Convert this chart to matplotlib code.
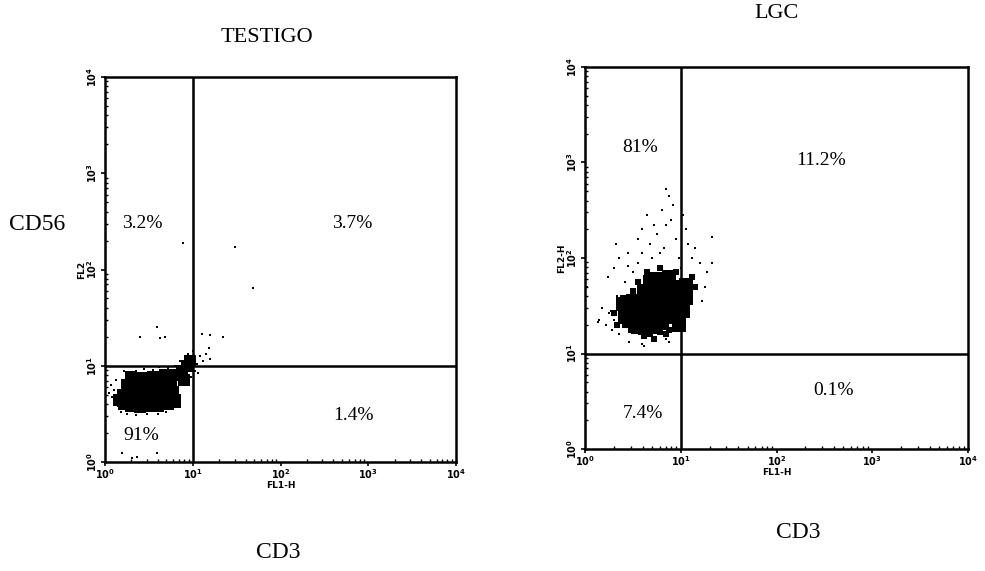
import numpy as np
import matplotlib
matplotlib.use("Agg")
import matplotlib.pyplot as plt

# dot positions are in decades (log10 of FL1-H / FL2-H channel values)
# TESTIGO: dense core, drawn with big dots
t_core_x = [0.22, 0.30, 0.40, 0.50, 0.60, 0.70, 0.20, 0.30, 0.40, 0.50, 0.60, 0.70, 0.78,
            0.25, 0.35, 0.45, 0.55, 0.65, 0.75, 0.30, 0.42, 0.55, 0.68, 0.82, 0.88, 0.93,
            0.97, 0.90, 0.16, 0.80]
t_core_y = [0.60, 0.58, 0.57, 0.58, 0.58, 0.60, 0.70, 0.68, 0.67, 0.68, 0.69, 0.70, 0.72,
            0.80, 0.78, 0.77, 0.79, 0.80, 0.82, 0.88, 0.87, 0.88, 0.90, 0.90, 0.95, 1.00,
            1.05, 0.85, 0.64, 0.62]
# TESTIGO: loose events
t_dot_x = [0.05, 0.08, 0.10, 0.12, 0.07, 0.13, 0.15, 0.18, 0.25, 0.35, 0.48, 0.60, 0.70,
           0.78, 0.84, 0.86, 0.83, 0.22, 0.35, 0.45, 0.55, 0.62, 0.72, 0.80, 0.85, 0.95,
           1.00, 1.03, 1.05, 1.08, 1.12, 1.15, 1.18, 1.20, 1.02, 1.06, 0.40, 0.63, 0.68,
           0.59, 1.11, 1.20, 1.34, 0.89, 1.48, 1.69, 0.19, 0.31, 0.36, 0.59, 0.93, 0.98]
t_dot_y = [0.72, 0.68, 0.75, 0.62, 0.80, 0.85, 0.58, 0.52, 0.50, 0.49, 0.50, 0.50, 0.52,
           0.55, 0.62, 0.70, 0.78, 0.95, 0.95, 0.97, 0.96, 0.99, 0.98, 1.00, 1.05, 1.12,
           1.15, 1.08, 1.02, 1.10, 1.05, 1.12, 1.18, 1.07, 0.95, 0.92, 1.30, 1.29, 1.30,
           1.40, 1.33, 1.32, 1.30, 2.28, 2.23, 1.81, 0.09, 0.04, 0.05, 0.09, 0.90, 0.88]

# LGC: dense core
l_core_x = [0.50, 0.60, 0.70, 0.80, 0.90, 0.45, 0.55, 0.65, 0.75, 0.85, 0.95, 0.50, 0.60,
            0.70, 0.80, 0.90, 1.00, 0.62, 0.72, 0.82, 0.92, 1.05, 0.75, 0.88, 0.42, 0.40,
            1.02, 1.05, 0.55, 0.98, 0.68]
l_core_y = [1.35, 1.30, 1.28, 1.32, 1.38, 1.45, 1.42, 1.40, 1.42, 1.45, 1.50, 1.55, 1.52,
            1.55, 1.55, 1.60, 1.62, 1.65, 1.66, 1.68, 1.70, 1.72, 1.78, 1.80, 1.38, 1.52,
            1.45, 1.58, 1.28, 1.30, 1.75]
# LGC: medium spread
l_mid_x = [0.38, 0.35, 0.42, 0.48, 0.58, 0.68, 0.78, 0.88, 0.40, 0.50, 0.55, 0.65, 0.78,
           0.95, 1.08, 1.12, 0.30, 0.33, 0.62, 0.72, 0.85, 1.15]
l_mid_y = [1.40, 1.50, 1.30, 1.25, 1.22, 1.20, 1.22, 1.25, 1.58, 1.65, 1.75, 1.85, 1.90,
           1.85, 1.65, 1.80, 1.42, 1.30, 1.18, 1.15, 1.20, 1.70]
# LGC: loose events
l_dot_x = [0.30, 0.27, 0.25, 0.33, 0.22, 0.15, 0.46, 0.60, 0.62, 0.85, 0.88, 0.70, 0.55,
           0.60, 0.70, 0.68, 0.75, 0.82, 0.85, 0.90, 0.92, 0.88, 0.85, 0.80, 0.72, 0.65,
           0.55, 0.45, 0.35, 0.32, 0.60, 1.02, 1.05, 1.08, 1.12, 1.15, 1.20, 1.25, 1.27,
           1.22, 0.98, 0.95, 1.00, 0.78, 0.50, 0.42, 0.45, 0.30, 0.24, 0.14, 0.02, 1.33,
           1.33, 0.18, 0.28, 0.36]
l_dot_y = [1.35, 1.45, 1.42, 1.60, 1.30, 1.35, 1.12, 1.10, 1.08, 1.15, 1.12, 1.15, 1.95,
           2.05, 2.00, 2.15, 2.25, 2.10, 2.35, 2.40, 2.55, 2.65, 2.72, 2.50, 2.35, 2.45,
           2.20, 2.05, 2.00, 2.15, 2.30, 2.45, 2.30, 2.15, 2.00, 2.10, 1.95, 1.70, 1.85,
           1.55, 2.00, 2.20, 1.90, 2.05, 1.85, 1.75, 1.92, 1.90, 1.80, 1.33, 1.70, 2.22,
           1.95, 1.48, 1.25, 1.20]

# quadrant percentages: upper-left, upper-right, lower-left, lower-right
t_pct = ["3.2%", "3.7%", "91%", "1.4%"]
l_pct = ["81%", "11.2%", "7.4%", "0.1%"]
decades = [0, 1, 2, 3, 4]
dec_labels = [r"$\mathbf{10^{%d}}$" % d for d in decades]

# where the percentages sit, as axes fractions
t_pct_pos = [(0.105, 0.62), (0.704, 0.62), (0.103, 0.068), (0.707, 0.122)]
l_pct_pos = [(0.144, 0.79), (0.616, 0.754), (0.151, 0.094), (0.648, 0.152)]

serif = "Liberation Serif"
W, H = 985, 571
fig = plt.figure(figsize=(W / 100, H / 100), dpi=100)


def box(l, t, r, b):
    return [l / W, 1 - b / H, (r - l) / W, (b - t) / H]


def panel(ax, cx, cy, mx, my, dx, dy, pct, pos, ylab, core_s):
    ax.set_xscale("log")
    ax.set_yscale("log")
    ax.set_xlim(1, 1e4)
    ax.set_ylim(1, 1e4)
    ax.scatter(10 ** np.array(cx), 10 ** np.array(cy), s=core_s, c="k", lw=0, marker="s")
    if mx:
        ax.scatter(10 ** np.array(mx), 10 ** np.array(my), s=16, c="k", lw=0, marker="s")
    ax.scatter(10 ** np.array(dx), 10 ** np.array(dy), s=4, c="k", lw=0, marker="s")
    ax.axvline(10, color="k", lw=1.8)
    ax.axhline(10, color="k", lw=1.8)
    for sp in ax.spines.values():
        sp.set_linewidth(1.8)
    ax.set_xticks([10.0 ** d for d in decades])
    ax.set_xticklabels(dec_labels, fontsize=7)
    ax.set_yticks([10.0 ** d for d in decades])
    ax.set_yticklabels(dec_labels, fontsize=7, rotation=90, va="center")
    ax.tick_params(which="major", direction="out", length=3, width=1.2, pad=1)
    ax.tick_params(which="minor", direction="in", length=2, width=1)
    ax.set_xlabel("FL1-H", fontsize=6.5, fontweight="bold", labelpad=0)
    ax.set_ylabel(ylab, fontsize=6.5, fontweight="bold", labelpad=0)
    for txt, (fx, fy) in zip(pct, pos):
        ax.text(fx, fy, txt, transform=ax.transAxes, ha="center", va="center",
                family=serif, fontsize=14)


ax1 = fig.add_axes(box(105, 77, 456, 462))
panel(ax1, t_core_x, t_core_y, None, None, t_dot_x, t_dot_y, t_pct, t_pct_pos, "FL2", 80)
ax2 = fig.add_axes(box(585, 67, 968, 449))
panel(ax2, l_core_x, l_core_y, l_mid_x, l_mid_y, l_dot_x, l_dot_y, l_pct, l_pct_pos,
      "FL2-H", 90)

fig.text(267 / W, 1 - 37 / H, "TESTIGO", ha="center", va="center", family=serif, fontsize=16)
fig.text(777 / W, 1 - 14 / H, "LGC", ha="center", va="center", family=serif, fontsize=16)
fig.text(37 / W, 1 - 224 / H, "CD56", ha="center", va="center", family=serif, fontsize=17)
fig.text(278 / W, 1 - 552 / H, "CD3", ha="center", va="center", family=serif, fontsize=17)
fig.text(798 / W, 1 - 533 / H, "CD3", ha="center", va="center", family=serif, fontsize=17)

fig.savefig("out.png", dpi=100)
